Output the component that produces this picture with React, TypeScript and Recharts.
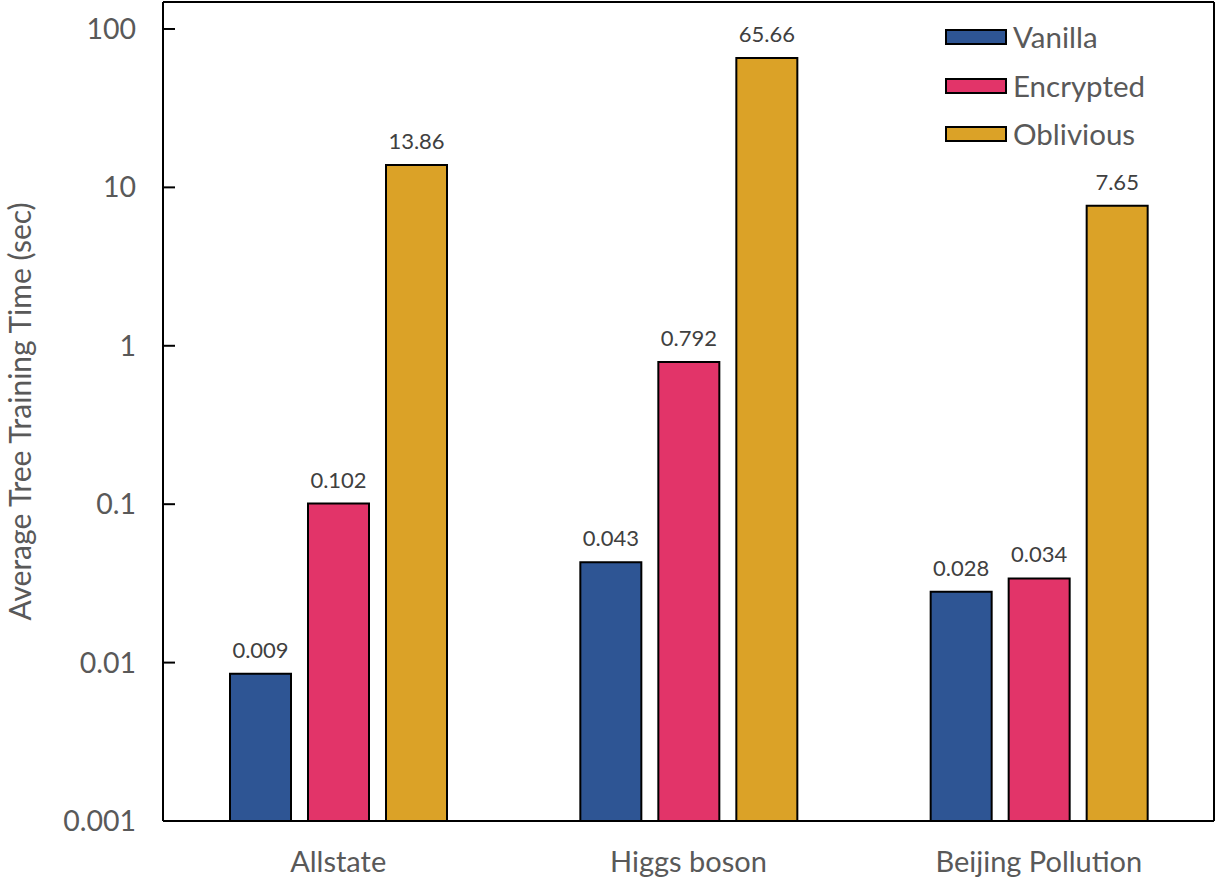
import React from 'react';
import { BarChart, Bar, XAxis, YAxis, LabelList, Legend } from 'recharts';

const categories = ['Allstate', 'Higgs boson', 'Beijing Pollution'];
const vanilla = [0.0085, 0.043, 0.028];
const encrypted = [0.101, 0.79, 0.034];
const oblivious = [13.86, 65.66, 7.65];
const vanillaLabels = ['0.009', '0.043', '0.028'];
const encryptedLabels = ['0.102', '0.792', '0.034'];
const obliviousLabels = ['13.86', '65.66', '7.65'];
const yTicks = [0.001, 0.01, 0.1, 1, 10, 100];
const yTickLabels = ['0.001', '0.01', '0.1', '1', '10', '100'];
const seriesNames = ['Vanilla', 'Encrypted', 'Oblivious'];
const seriesColors = ['#2E5594', '#E23469', '#DBA227'];

const data = categories.map((c, i) => ({
  name: c,
  vanilla: vanilla[i],
  encrypted: encrypted[i],
  oblivious: oblivious[i],
  vanillaLabel: vanillaLabels[i],
  encryptedLabel: encryptedLabels[i],
  obliviousLabel: obliviousLabels[i],
}));

const FONT = 'Lato, "Open Sans", sans-serif';
const GRAY = '#595959';

const LegendContent = () => (
  <div style={{ fontFamily: FONT }}>
    {seriesNames.map((n, i) => (
      <div key={n} style={{ display: 'flex', alignItems: 'center', height: 48.5 }}>
        <div
          style={{
            width: 58,
            height: 12,
            background: seriesColors[i],
            border: '2px solid #000',
            marginRight: 6,
          }}
        />
        <span style={{ fontSize: 29.5, color: GRAY, lineHeight: '30px' }}>{n}</span>
      </div>
    ))}
  </div>
);

export default function App() {
  const keys = ['vanilla', 'encrypted', 'oblivious'];
  return (
    <div style={{ position: 'absolute', left: 0, top: 0, background: '#fff' }}>
      <BarChart
        width={1216}
        height={882}
        data={data}
        margin={{ top: 1, right: 1, bottom: 0, left: 0 }}
        barSize={61}
        barGap={17}
      >
        <XAxis
          dataKey="name"
          axisLine={{ stroke: '#000', strokeWidth: 2 }}
          tickLine={false}
          tickSize={0}
          tickMargin={30}
          height={61}
          tick={{ fontSize: 29, fill: GRAY, fontFamily: FONT }}
        />
        <XAxis
          xAxisId="top"
          orientation="top"
          dataKey="name"
          height={1}
          tick={false}
          tickLine={false}
          axisLine={{ stroke: '#000', strokeWidth: 2 }}
        />
        <YAxis
          scale="log"
          domain={[0.001, 148]}
          ticks={yTicks}
          allowDataOverflow
          width={163}
          axisLine={{ stroke: '#000', strokeWidth: 2 }}
          tickLine={{ stroke: '#000', strokeWidth: 2 }}
          tickSize={-12}
          tickMargin={39}
          tickFormatter={(v: number) => {
            const idx = yTicks.indexOf(v);
            return idx >= 0 ? yTickLabels[idx] : String(v);
          }}
          tick={{ fontSize: 28.5, fill: GRAY, fontFamily: FONT }}
          label={{
            value: 'Average Tree Training Time (sec)',
            angle: -90,
            position: 'center',
            dx: -61,
            style: { fontSize: 30, fill: GRAY, fontFamily: FONT },
          }}
        />
        <YAxis
          yAxisId="right"
          orientation="right"
          width={1}
          tick={false}
          tickLine={false}
          axisLine={{ stroke: '#000', strokeWidth: 2 }}
        />
        <Legend
          verticalAlign="middle"
          align="center"
          layout="vertical"
          content={<LegendContent />}
          wrapperStyle={{ top: 13, left: 945, width: 260 }}
        />
        {keys.map((k, i) => (
          <Bar
            key={k}
            dataKey={k}
            name={seriesNames[i]}
            fill={seriesColors[i]}
            stroke="#000"
            strokeWidth={2}
            isAnimationActive={false}
          >
            <LabelList
              dataKey={`${k}Label`}
              position="top"
              offset={16}
              style={{ fontSize: 22, fill: '#404040', fontFamily: FONT }}
            />
          </Bar>
        ))}
      </BarChart>
    </div>
  );
}
